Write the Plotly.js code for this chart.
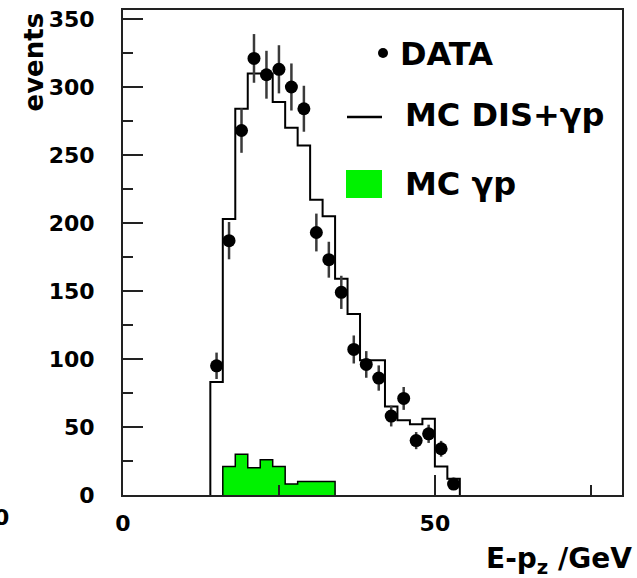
<!DOCTYPE html>
<html>
<head>
<meta charset="utf-8">
<script src="https://cdn.plot.ly/plotly-3.0.1.min.js"></script>
<style>html,body{margin:0;padding:0;background:#fff;}</style>
</head>
<body>
<div id="chart" style="width:637px;height:578px;"></div>
<script>
// DATA points (E-pz bin centres, events, errors)
var dataX = [15,17,19,21,23,25,27,29,31,33,35,37,39,41,43,45,47,49,51,53];
var dataY = [95,187,268,321,309,313,300,284,193,173,149,107,96,86,58,71,40,45,34,8];
var dataErr = [9.7,13.7,16.4,17.9,17.6,17.7,17.3,16.9,13.9,13.2,12.2,10.3,9.8,9.3,7.6,8.4,6.3,6.7,5.8,2.8];

// MC DIS + gamma p histogram (bin edges and contents)
var mcEdges = [14,16,18,20,22,24,26,28,30,32,34,36,38,40,42,44,46,48,50,52,54];
var mcVals  = [83,203,284,310,310,289,270,257,217,205,159,133,99,99,65,55,52,56,21,12];

// MC gamma p histogram
var gpEdges = [16,18,20,22,24,26,28,30,32,34];
var gpVals  = [21,30,20,26,21,8,10,10,10];

var xTickVals = [0,50];
var xTickText = ['0','50'];
var yTickVals = [0,50,100,150,200,250,300,350];
var yTickText = ['0','50','100','150','200','250','300','350'];

function stepXY(edges, vals){
  var x=[edges[0]], y=[0];
  for (var i=0;i<vals.length;i++){ x.push(edges[i]); y.push(vals[i]); }
  x.push(edges[edges.length-1]); y.push(0);
  return {x:x,y:y};
}
var mcStep = stepXY(mcEdges, mcVals);
var gpStep = stepXY(gpEdges, gpVals);

var FONT = 'DejaVu Sans';
var L=123, R=622, T=10, B=495;
function px(v){ return (v-L)/(R-L); }
function py(v){ return (B-v)/(B-T); }

var traces = [
  {x:gpStep.x, y:gpStep.y, type:'scatter', mode:'lines', line:{shape:'hv', color:'#000', width:1.5},
   fill:'tozeroy', fillcolor:'#00f200', hoverinfo:'skip', showlegend:false},
  {x:mcStep.x, y:mcStep.y, type:'scatter', mode:'lines', line:{shape:'hv', color:'#000', width:2},
   hoverinfo:'skip', showlegend:false},
  {x:dataX, y:dataY, type:'scatter', mode:'markers', marker:{color:'#000', size:13},
   error_y:{type:'data', array:dataErr, visible:true, color:'#3a3a3a', thickness:2.5, width:0},
   showlegend:false}
];

var layout = {
  width:637, height:578,
  margin:{l:L, r:637-R, t:T, b:578-B, pad:0},
  paper_bgcolor:'#fff', plot_bgcolor:'#fff',
  showlegend:false,
  xaxis:{range:[0,80], showgrid:false, zeroline:false, showline:true, linecolor:'#222', linewidth:2, mirror:true,
    ticks:'inside', ticklen:20, tickwidth:1.5, tickcolor:'#222', tickvals:xTickVals, ticktext:xTickText,
    minor:{dtick:25, tick0:0, ticks:'inside', ticklen:10, tickwidth:1.5, tickcolor:'#222'},
    tickfont:{family:FONT, size:22, weight:'bold', color:'#000'}, ticklabelstandoff:8},
  yaxis:{range:[0,356.6], showgrid:false, zeroline:false, showline:true, linecolor:'#222', linewidth:2, mirror:true,
    ticks:'inside', ticklen:20, tickwidth:1.5, tickcolor:'#222', tickvals:yTickVals, ticktext:yTickText,
    minor:{dtick:25, tick0:0, ticks:'inside', ticklen:10, tickwidth:1.5, tickcolor:'#222'},
    tickfont:{family:FONT, size:22, weight:'bold', color:'#000'}, ticklabelstandoff:22},
  annotations:[
    {text:'events', textangle:-90, xref:'paper', yref:'paper', x:px(33), y:py(11), xanchor:'center', yanchor:'top',
     showarrow:false, font:{family:FONT, size:26, weight:'bold', color:'#000'}},
    {text:'E-p<sub>z</sub> /GeV', xref:'paper', yref:'paper', x:px(634), y:py(560), xanchor:'right', yanchor:'middle',
     showarrow:false, font:{family:FONT, size:28, weight:'bold', color:'#000'}},
    {text:'0', xref:'paper', yref:'paper', x:px(1), y:py(517), xanchor:'center', yanchor:'middle',
     showarrow:false, font:{family:FONT, size:22, weight:'bold', color:'#000'}},
    {text:'DATA', xref:'paper', yref:'paper', x:px(398), y:py(54), xanchor:'left', yanchor:'middle',
     showarrow:false, font:{family:FONT, size:32, weight:'bold', color:'#000'}},
    {text:'MC DIS+γp', xref:'paper', yref:'paper', x:px(403), y:py(115), xanchor:'left', yanchor:'middle',
     showarrow:false, font:{family:FONT, size:32, weight:'bold', color:'#000'}},
    {text:'MC γp', xref:'paper', yref:'paper', x:px(403), y:py(184), xanchor:'left', yanchor:'middle',
     showarrow:false, font:{family:FONT, size:32, weight:'bold', color:'#000'}}
  ],
  shapes:[
    {type:'circle', xref:'paper', yref:'paper', x0:px(378), x1:px(388), y0:py(58), y1:py(48), fillcolor:'#000', line:{width:0}},
    {type:'line', xref:'paper', yref:'paper', x0:px(347), x1:px(382), y0:py(117), y1:py(117), line:{color:'#000', width:2.5}},
    {type:'rect', xref:'paper', yref:'paper', x0:px(346), x1:px(382), y0:py(198), y1:py(170), fillcolor:'#00f200', line:{width:0}}
  ]
};

Plotly.newPlot('chart', traces, layout, {staticPlot:true, displayModeBar:false});
</script>
</body>
</html>
